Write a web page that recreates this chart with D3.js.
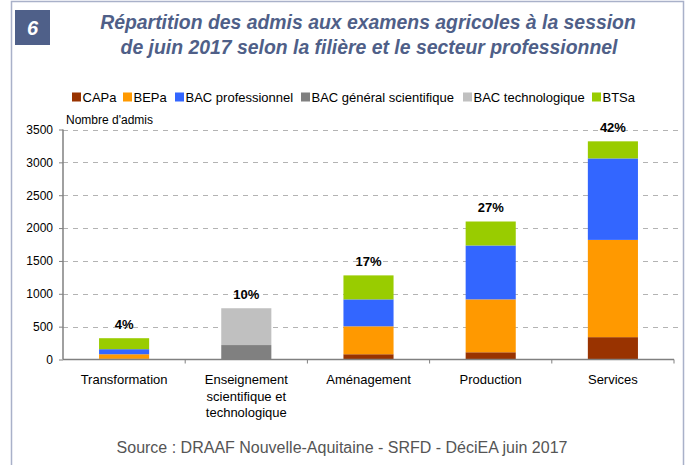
<!DOCTYPE html>
<html><head><meta charset="utf-8">
<script src="https://cdn.jsdelivr.net/npm/d3@7"></script>
<style>body{margin:0;background:#fff;} svg{display:block;font-family:"Liberation Sans",Arial,sans-serif;}</style>
</head><body>
<svg id="c" width="688" height="465"></svg>
<script>
const categories = ["Transformation", "Enseignement scientifique et technologique", "Aménagement", "Production", "Services"];
const categoryLines = [["Transformation"], ["Enseignement", "scientifique et", "technologique"], ["Aménagement"], ["Production"], ["Services"]];
const seriesNames = ["CAPa", "BEPa", "BAC professionnel", "BAC général scientifique", "BAC technologique", "BTSa"];
const seriesColors = ["#993300", "#ff9900", "#3366ff", "#808080", "#c0c0c0", "#99cc00"];
const capa     = [10, 0, 80, 110, 340];
const bepa     = [70, 0, 425, 805, 1480];
const bacPro   = [77, 0, 410, 820, 1240];
const bacGen   = [0, 220, 0, 0, 0];
const bacTech  = [0, 560, 0, 0, 0];
const btsa     = [167, 0, 365, 365, 260];
const shares   = ["4%", "10%", "17%", "27%", "42%"];
const yTicks   = [0, 500, 1000, 1500, 2000, 2500, 3000, 3500];

const FONT = "'Liberation Sans', Arial, sans-serif";
const seriesValues = [capa, bepa, bacPro, bacGen, bacTech, btsa];
const rows = categories.map((c, i) => {
  const r = {cat: c};
  seriesNames.forEach((s, j) => r[s] = seriesValues[j][i]);
  return r;
});
const stacked = d3.stack().keys(seriesNames)(rows);

const svg = d3.select("#c").attr("font-family", FONT);
const mLeft = 63, mRight = 674, mTop = 129.5, mBottom = 359.5;

const x = d3.scaleBand().domain(categories).range([mLeft, mRight]).paddingInner(0.59).paddingOuter(0.295);
const y = d3.scaleLinear().domain([0, 3500]).range([mBottom, mTop]);

// frame
svg.append("path").attr("d", "M11.5,465 V1.5 H683.5 V465").attr("fill", "none").attr("stroke", "#a9b1c9").attr("stroke-width", 1.5);

// title box
svg.append("rect").attr("x", 15).attr("y", 10).attr("width", 35).attr("height", 35).attr("fill", "#4f6089");
svg.append("text").attr("x", 32.5).attr("y", 35).attr("text-anchor", "middle").attr("fill", "#fff")
  .attr("font-size", 20).attr("font-weight", "bold").attr("font-style", "italic").text("6");
const title = svg.append("text").attr("text-anchor", "middle").attr("fill", "#4f5f88")
  .attr("font-size", 19.4).attr("font-weight", "bold").attr("font-style", "italic");
title.append("tspan").attr("x", 368).attr("y", 29).text("Répartition des admis aux examens agricoles à la session");
title.append("tspan").attr("x", 369).attr("y", 54).text("de juin 2017 selon la filière et le secteur professionnel");

// legend
const legendX = [72, 123, 175, 301, 463, 592];
const lg = svg.append("g");
seriesNames.forEach((s, i) => {
  lg.append("rect").attr("x", legendX[i]).attr("y", 92.5).attr("width", 9).attr("height", 9).attr("fill", seriesColors[i]);
  lg.append("text").attr("x", legendX[i] + 10.5).attr("y", 101.5).attr("font-size", 13).attr("fill", "#000").text(s);
});

// y axis label
svg.append("text").attr("x", 66).attr("y", 124).attr("font-size", 12).attr("fill", "#000").text("Nombre d'admis");

// gridlines
svg.append("g").selectAll("line").data(yTicks.filter(t => t > 0)).join("line")
  .attr("x1", mLeft).attr("x2", 678).attr("y1", d => Math.round(y(d)) + 0.5).attr("y2", d => Math.round(y(d)) + 0.5)
  .attr("stroke", "#b3b3b3").attr("stroke-width", 1).attr("stroke-dasharray", "5,5");

// bars
svg.append("g").selectAll("g").data(stacked).join("g")
  .attr("fill", (d, i) => seriesColors[i])
  .selectAll("rect").data(d => d).join("rect")
  .attr("x", d => x(d.data.cat)).attr("width", x.bandwidth())
  .attr("y", d => y(d[1])).attr("height", d => y(d[0]) - y(d[1]));

// y axis
const ya = svg.append("g").attr("transform", `translate(${mLeft},0)`)
  .call(d3.axisLeft(y).tickValues(yTicks).tickSize(4).tickPadding(6).tickFormat(d3.format("d")));
ya.attr("font-family", FONT);
ya.select(".domain").attr("stroke", "#808080").attr("stroke-width", 1.5).attr("d", `M0,${mTop}V${mBottom}`);
ya.selectAll(".tick line").attr("stroke", "#808080");
ya.selectAll("text").attr("font-size", 12).attr("fill", "#000");

// x axis
svg.append("line").attr("x1", mLeft).attr("x2", mRight).attr("y1", mBottom).attr("y2", mBottom).attr("stroke", "#808080").attr("stroke-width", 1.5);
const boundaries = categories.map(c => x(c) - x.step() * x.paddingInner() / 2).concat([mRight]);
svg.append("g").selectAll("line").data(boundaries.slice(1)).join("line")
  .attr("x1", d => d).attr("x2", d => d).attr("y1", mBottom).attr("y2", mBottom + 4).attr("stroke", "#808080");

const xl = svg.append("g");
categories.forEach((c, i) => {
  const t = xl.append("text").attr("text-anchor", "middle").attr("font-size", 13).attr("fill", "#000");
  categoryLines[i].forEach((ln, k) => {
    t.append("tspan").attr("x", x(c) + x.bandwidth() / 2).attr("y", 384 + k * 16.5).text(ln);
  });
});

// share labels
const totals = rows.map(r => d3.sum(seriesNames, s => r[s]));
svg.append("g").selectAll("text").data(categories).join("text")
  .attr("x", c => x(c) + x.bandwidth() / 2)
  .attr("y", (c, i) => y(totals[i]) - 9.5)
  .attr("text-anchor", "middle").attr("font-size", 13).attr("font-weight", "bold").attr("fill", "#000")
  .text((c, i) => shares[i]);

// source
svg.append("text").attr("x", 342).attr("y", 453).attr("text-anchor", "middle").attr("font-size", 16).attr("fill", "#555")
  .text("Source : DRAAF Nouvelle-Aquitaine - SRFD - DéciEA juin 2017");
</script>
</body></html>
